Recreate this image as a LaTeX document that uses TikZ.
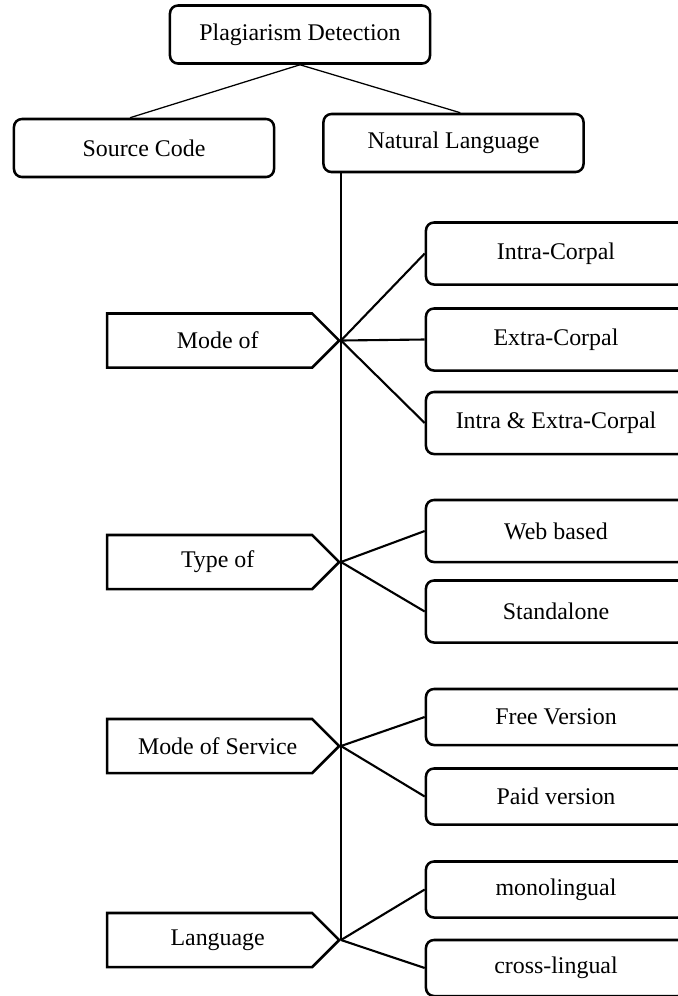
\documentclass[tikz,border=0pt]{standalone}
\usepackage{fontspec}
\setmainfont{Liberation Serif}
\usetikzlibrary{shapes.symbols}

\tikzset{
  box/.style={draw, rectangle, rounded corners=0.2cm, line width=1.8pt, minimum width=6.5cm, minimum height=1.45cm, inner sep=0pt, font=\fontsize{17}{20}\selectfont},
  leaf/.style={box, minimum height=1.55cm},
  leafsmall/.style={box, minimum height=1.4cm},
  tag/.style={draw, signal, signal to=east, signal pointer angle=90, line width=1.8pt, minimum width=5.8cm, minimum height=1.35cm, inner sep=0pt, anchor=east, execute at begin node={\hspace*{0.4cm}}, font=\fontsize{17}{20}\selectfont},
  branch/.style={line width=1.5pt},
}

\begin{document}
\begin{tikzpicture}[x=0.025cm, y=-0.025cm]
\useasboundingbox (0,0) rectangle (678,996);
\clip (0,0) rectangle (678,996);

% Root and first split
\node[box] (pd) at (300,34.5) {Plagiarism Detection};
\node[box] (sc) at (144,148) {Source Code};
\node[box] (nl) at (453.5,143) {Natural Language};
\draw[line width=0.9pt] (pd.south) -- ([xshift=-0.35cm]sc.north);
\draw[line width=0.9pt] (pd.south) -- ([xshift=0.17cm]nl.north);

% Mode of
\node[tag] (mode) at (341,340.5) {Mode of};
\node[leaf] (intra) at (556,253.5) {Intra-Corpal};
\node[leaf] (extra) at (556,339.5) {Extra-Corpal};
\node[leaf] (both) at (556,423) {Intra \& Extra-Corpal};
\draw[branch] (mode.east) -- (intra.west);
\draw[branch] (mode.east) -- (extra.west);
\draw[branch] (mode.east) -- (both.west);

% Type of
\node[tag] (type) at (341,562) {Type of};
\node[leaf] (web) at (556,531) {Web based};
\node[leaf] (alone) at (556,611.5) {Standalone};
\draw[branch] (type.east) -- (web.west);
\draw[branch] (type.east) -- (alone.west);

% Mode of Service
\node[tag] (service) at (341,746) {Mode of Service};
\node[leafsmall] (free) at (556,717) {Free Version};
\node[leafsmall] (paid) at (556,796.5) {Paid version};
\draw[branch] (service.east) -- (free.west);
\draw[branch] (service.east) -- (paid.west);

% Language
\node[tag] (lang) at (341,940) {Language};
\node[leafsmall] (mono) at (556,889.5) {monolingual};
\node[leafsmall] (cross) at (556,968) {cross-lingual};
\draw[branch] (lang.east) -- (mono.west);
\draw[branch] (lang.east) -- (cross.west);

% spine under Natural Language
\draw[line width=1.1pt] (nl.south -| lang.east) -- (lang.east);

\end{tikzpicture}
\end{document}
